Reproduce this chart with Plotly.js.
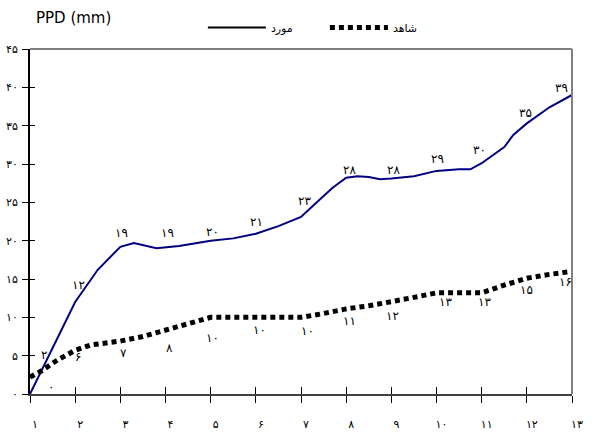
<!DOCTYPE html>
<html>
<head>
<meta charset="utf-8">
<script src="https://cdn.plot.ly/plotly-3.0.1.min.js"></script>
<style>html,body{margin:0;padding:0;background:#fff;}#chart{width:595px;height:432px;}</style>
</head>
<body>
<div id="chart"></div>
<script>
// ---- data ----
const seriesNames = ['مورد', 'شاهد'];
const xCategories = [1, 2, 3, 4, 5, 6, 7, 8, 9, 10, 11, 12, 13];
const yTickValues = [0, 5, 10, 15, 20, 25, 30, 35, 40, 45];

// solid (case) curve
const caseX = [1, 2, 2.5, 3, 3.3, 3.8, 4.3, 5, 5.5, 6, 6.5, 7, 7.35, 7.7, 8, 8.25, 8.5, 8.75, 9, 9.5, 10, 10.25, 10.5, 10.75, 11, 11.5, 11.7, 12, 12.5, 13];
const caseY = [0, 12, 16.2, 19.2, 19.7, 19.0, 19.3, 20, 20.3, 20.9, 21.9, 23.1, 25, 26.9, 28.2, 28.4, 28.3, 28.0, 28.1, 28.4, 29.1, 29.2, 29.3, 29.3, 30.1, 32.2, 33.8, 35.3, 37.4, 39];

// dotted (control) curve
const controlX = [1, 1.25, 1.6, 2, 2.35, 3, 3.5, 4, 4.5, 5, 6, 7, 7.5, 8, 8.5, 9, 9.5, 10, 11, 11.5, 12, 12.5, 13];
const controlY = [2.2, 3.0, 4.4, 5.7, 6.4, 6.9, 7.5, 8.3, 9.1, 10, 10, 10, 10.5, 11.1, 11.5, 12, 12.6, 13.2, 13.2, 14.2, 15.1, 15.6, 16];

// data labels at each category
const caseLabels = [0, 12, 19, 19, 20, 21, 23, 28, 28, 29, 30, 35, 39];
const controlLabels = [2, 6, 7, 8, 10, 10, 10, 11, 12, 13, 13, 15, 16];

// ---- label placement (style only) ----
const caseDx = [21, 3, 1, 2, 2, 1, 3, 3, 2, 1, -2, -1, -11];
const caseDy = [7, 17, 15, 15, 9, 11, 17, 9, 9, 13, 14, 13, 7];
const ctrlDx = [14, 3, 3, 4, 2, 4, 6, 3, 1, 9, 3, 0, -7];
const ctrlDy = [24, -9, -13, -15, -21, -13, -14, -11, -14, -8, -8, -11, -11];

const fa = n => String(n).replace(/\d/g, d => '۰۱۲۳۴۵۶۷۸۹'[+d]);
const FONT = 'DejaVu Sans, Noto Sans, sans-serif';

const annotations = [];
xCategories.forEach((c, i) => {
  annotations.push({x: c, y: caseLabels[i], xref: 'x', yref: 'y', text: fa(caseLabels[i]),
    showarrow: false, xshift: caseDx[i], yshift: caseDy[i], font: {family: FONT, size: 12, color: '#000'}});
  annotations.push({x: c, y: controlLabels[i], xref: 'x', yref: 'y', text: fa(controlLabels[i]),
    showarrow: false, xshift: ctrlDx[i], yshift: ctrlDy[i], font: {family: FONT, size: 12, color: '#000'}});
});
annotations.push({x: 0.081, y: 1.09, xref: 'paper', yref: 'paper', text: 'PPD (mm)', showarrow: false,
  xanchor: 'center', yanchor: 'middle', font: {family: 'DejaVu Sans, sans-serif', size: 15, color: '#000'}});

const traces = [
  {x: caseX, y: caseY, mode: 'lines', line: {color: '#000080', width: 2}, showlegend: false, hoverinfo: 'skip'},
  {x: controlX, y: controlY, mode: 'lines', line: {color: '#000', width: 5, dash: '5px,4px'}, showlegend: false, hoverinfo: 'skip'},
  {x: [null], y: [null], mode: 'lines', name: seriesNames[0], line: {color: '#000', width: 2}},
  {x: [null], y: [null], mode: 'lines', name: seriesNames[1], line: {color: '#000', width: 5, dash: '5px,4px'}},
  // overlay for inner halves of crossing ticks
  {x: [null], y: [null], xaxis: 'x2', yaxis: 'y2', showlegend: false}
];

const layout = {
  width: 595, height: 432,
  margin: {l: 30, r: 23, t: 49, b: 38},
  paper_bgcolor: '#fff', plot_bgcolor: '#fff',
  font: {family: FONT, size: 11, color: '#000'},
  showlegend: true,
  legend: {orientation: 'h', x: 0.319, y: 1.062, xanchor: 'left', yanchor: 'middle', itemwidth: 58,
    font: {family: FONT, size: 11, color: '#000'}, entrywidth: 49, bgcolor: 'rgba(0,0,0,0)'},
  xaxis: {range: [1, 13], tickvals: xCategories, ticktext: xCategories.map(fa), ticks: 'outside', ticklen: 7,
    tickcolor: '#000', tickwidth: 1, showgrid: false, zeroline: false, showline: true, linecolor: '#404040', linewidth: 2,
    ticklabelstandoff: 12, ticklabelshift: 5, tickfont: {family: FONT, size: 11, color: '#000'}},
  yaxis: {range: [0, 45], tickvals: yTickValues, ticktext: yTickValues.map(fa), ticks: 'outside', ticklen: 6,
    tickcolor: '#000', tickwidth: 1, showgrid: false, zeroline: false, showline: true, linecolor: '#000', linewidth: 2,
    ticklabelstandoff: 2, tickfont: {family: FONT, size: 11, color: '#000'}},
  xaxis2: {range: [1, 13], overlaying: 'x', tickvals: xCategories, ticks: 'inside', ticklen: 7, tickcolor: '#000',
    showticklabels: false, showgrid: false, zeroline: false, showline: false},
  yaxis2: {range: [0, 45], overlaying: 'y', tickvals: yTickValues, ticks: 'inside', ticklen: 5, tickcolor: '#000',
    showticklabels: false, showgrid: false, zeroline: false, showline: false},
  shapes: [
    {type: 'line', xref: 'paper', yref: 'paper', x0: 0, x1: 1, y0: 1, y1: 1, line: {color: '#808080', width: 2}},
    {type: 'line', xref: 'paper', yref: 'paper', x0: 1, x1: 1, y0: 0, y1: 1, line: {color: '#808080', width: 2}}
  ],
  annotations: annotations
};

Plotly.newPlot('chart', traces, layout, {displayModeBar: false, staticPlot: true});
</script>
</body>
</html>
